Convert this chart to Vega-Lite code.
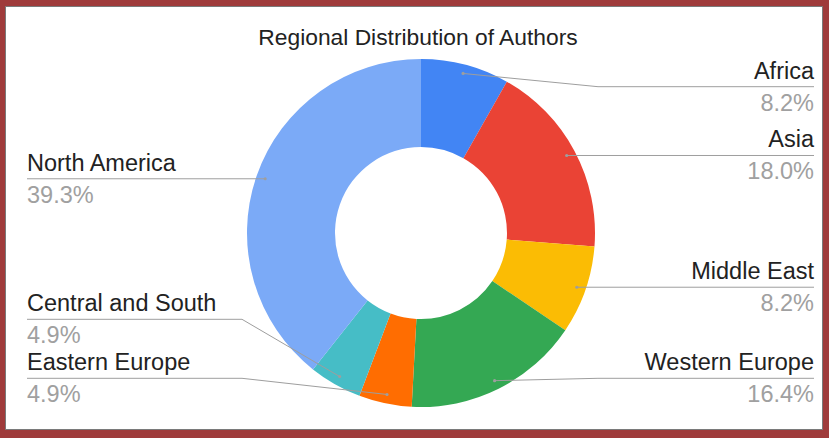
{
  "$schema": "https://vega.github.io/schema/vega-lite/v6.json",
  "autosize": {"type": "none"},
  "width": 817,
  "height": 423,
  "padding": {"left": 5, "top": 6, "right": 7, "bottom": 9},
  "background": "#9f3b3b",
  "config": {
    "view": {"fill": "white", "stroke": "#7a7a7a", "strokeWidth": 1},
    "font": "Liberation Sans",
    "text": {"font": "Liberation Sans"}
  },
  "title": {
    "text": "Regional Distribution of Authors",
    "anchor": "middle",
    "frame": "group",
    "offset": -62,
    "baseline": "alphabetic",
    "dx": 4.5,
    "font": "Liberation Sans",
    "fontSize": 22.8,
    "fontWeight": "normal",
    "color": "#222222"
  },
  "data": {
    "values": [
      {"idx": 1, "region": "Africa", "pct": 8.2},
      {"idx": 2, "region": "Asia", "pct": 18.0},
      {"idx": 3, "region": "Middle East", "pct": 8.2},
      {"idx": 4, "region": "Western Europe", "pct": 16.4},
      {"idx": 5, "region": "Eastern Europe", "pct": 4.9},
      {"idx": 6, "region": "Central and South", "pct": 4.9},
      {"idx": 7, "region": "North America", "pct": 39.3}
    ]
  },
  "transform": [
    {"joinaggregate": [{"op": "sum", "field": "pct", "as": "total"}]},
    {"window": [{"op": "sum", "field": "pct", "as": "cum"}], "sort": [{"field": "idx"}], "frame": [null, 0]},
    {"calculate": "(datum.cum - datum.pct / 2) / datum.total * 2 * PI", "as": "ang"},
    {"calculate": "165 * sin(datum.ang)", "as": "dotx"},
    {"calculate": "165 * cos(datum.ang)", "as": "doty"},
    {"calculate": "sin(datum.ang) >= 0 ? 'right' : 'left'", "as": "side"},
    {"calculate": "clamp(datum.doty, -145.3, 146.3)", "as": "lyc"},
    {"window": [{"op": "lag", "field": "lyc", "as": "prev"}], "groupby": ["side"], "sort": [{"field": "idx"}]},
    {"calculate": "datum.prev == null ? datum.lyc : (datum.side == 'right' ? min(datum.lyc, datum.prev - 59) : max(datum.lyc, datum.prev + 59))", "as": "ly"},
    {"calculate": "datum.side == 'right' ? 177 : -179", "as": "ex"},
    {"calculate": "datum.side == 'right' ? 393 : -394", "as": "endx"},
    {"calculate": "format(datum.pct, '.1f') + '%'", "as": "pctLabel"}
  ],
  "layer": [
    {
      "mark": {"type": "arc", "innerRadius": 86, "outerRadius": 174},
      "encoding": {
        "theta": {"field": "pct", "type": "quantitative", "stack": true},
        "order": {"field": "idx", "type": "quantitative"},
        "color": {
          "field": "region",
          "type": "nominal",
          "scale": {
            "domain": ["Africa", "Asia", "Middle East", "Western Europe", "Eastern Europe", "Central and South", "North America"],
            "range": ["#4285f4", "#ea4335", "#fbbc04", "#34a853", "#ff6d01", "#46bdc6", "#7baaf7"]
          },
          "legend": null
        },
        "x": {"datum": 0, "type": "quantitative", "scale": {"domain": [-416, 401], "nice": false, "zero": false}, "axis": null},
        "y": {"datum": 0, "type": "quantitative", "scale": {"domain": [-196, 227], "nice": false, "zero": false}, "axis": null}
      }
    },
    {
      "mark": {"type": "rule", "color": "#9e9e9e", "strokeWidth": 1},
      "encoding": {
        "x": {"field": "dotx", "type": "quantitative", "scale": {"domain": [-416, 401], "nice": false, "zero": false}, "axis": null},
        "y": {"field": "doty", "type": "quantitative", "scale": {"domain": [-196, 227], "nice": false, "zero": false}, "axis": null},
        "x2": {"field": "ex"},
        "y2": {"field": "ly"}
      }
    },
    {
      "mark": {"type": "rule", "color": "#9e9e9e", "strokeWidth": 1},
      "encoding": {
        "x": {"field": "ex", "type": "quantitative", "axis": null},
        "y": {"field": "ly", "type": "quantitative", "axis": null},
        "x2": {"field": "endx"},
        "y2": {"field": "ly"}
      }
    },
    {
      "mark": {"type": "circle", "color": "#9e9e9e", "opacity": 1, "size": 10},
      "encoding": {
        "x": {"field": "dotx", "type": "quantitative", "axis": null},
        "y": {"field": "doty", "type": "quantitative", "axis": null}
      }
    },
    {
      "transform": [{"filter": "datum.side == 'right'"}],
      "mark": {"type": "text", "align": "right", "baseline": "alphabetic", "dy": -8, "fontSize": 23.5, "color": "#222222"},
      "encoding": {
        "x": {"field": "endx", "type": "quantitative", "axis": null},
        "y": {"field": "ly", "type": "quantitative", "axis": null},
        "text": {"field": "region"}
      }
    },
    {
      "transform": [{"filter": "datum.side == 'right'"}],
      "mark": {"type": "text", "align": "right", "baseline": "alphabetic", "dy": 24, "fontSize": 23.5, "color": "#a0a0a0"},
      "encoding": {
        "x": {"field": "endx", "type": "quantitative", "axis": null},
        "y": {"field": "ly", "type": "quantitative", "axis": null},
        "text": {"field": "pctLabel"}
      }
    },
    {
      "transform": [{"filter": "datum.side == 'left'"}],
      "mark": {"type": "text", "align": "left", "baseline": "alphabetic", "dy": -8, "fontSize": 23.5, "color": "#222222"},
      "encoding": {
        "x": {"field": "endx", "type": "quantitative", "axis": null},
        "y": {"field": "ly", "type": "quantitative", "axis": null},
        "text": {"field": "region"}
      }
    },
    {
      "transform": [{"filter": "datum.side == 'left'"}],
      "mark": {"type": "text", "align": "left", "baseline": "alphabetic", "dy": 24, "fontSize": 23.5, "color": "#a0a0a0"},
      "encoding": {
        "x": {"field": "endx", "type": "quantitative", "axis": null},
        "y": {"field": "ly", "type": "quantitative", "axis": null},
        "text": {"field": "pctLabel"}
      }
    }
  ]
}
